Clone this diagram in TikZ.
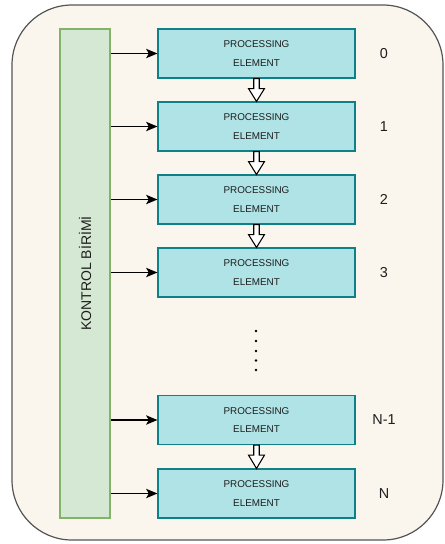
\documentclass[tikz,border=0pt]{standalone}
\usepackage{fontspec}
\setmainfont{Liberation Sans}
\usetikzlibrary{arrows.meta,calc}
\definecolor{bgcream}{HTML}{FAF6EE}
\definecolor{outerline}{HTML}{555555}
\definecolor{pefill}{HTML}{B0E3E6}
\definecolor{peline}{HTML}{0E8088}
\definecolor{ctfill}{HTML}{D5E8D4}
\definecolor{ctline}{HTML}{82B366}
\definecolor{txt}{HTML}{1E1E1E}
\newcommand\hollowarr[2]{%
  \draw[fill=white,line width=0.8pt,line join=miter]
    ($(#1.south)+(-2.75,0)$) -- ($(#1.south)+(-2.75,10)$) -- ($(#1.south)+(-8,10)$)
    -- (#2.north) -- ($(#1.south)+(8,10)$) -- ($(#1.south)+(2.75,10)$)
    -- ($(#1.south)+(2.75,0)$) -- cycle;}
\begin{document}
\begin{tikzpicture}[x=0.75pt,y=-0.75pt,
  pebox/.style={draw=peline,fill=pefill,line width=0.8pt,minimum width=147.75pt,
    minimum height=36.75pt,inner sep=0pt,align=center,text=txt,
    font=\fontsize{7.4}{14}\selectfont},
  numlabel/.style={text=txt,font=\fontsize{10.8}{12}\selectfont,inner sep=0pt},
  feed/.style={-{Stealth[length=8.5pt,width=7pt,inset=2pt]},line width=1.05pt,black}]
\fill[white] (0,0) rectangle (444,544);
\useasboundingbox (0,0) rectangle (444,544);
\draw[draw=outerline,fill=bgcream,line width=0.9pt,rounded corners=45pt] (12,5) rectangle (443,540);

\node[draw=ctline,fill=ctfill,line width=0.8pt,minimum width=37.5pt,minimum height=366.75pt,inner sep=0pt] (ctrl) at (85,273.5) {};
\node[rotate=90,text=txt,font=\fontsize{10.5}{12}\selectfont] (ctrltext) at (ctrl.center) {KONTROL BİRİMİ};

\node[pebox] (b0) at (256.5,53.5) {PROCESSING\\ELEMENT};
\node[pebox] (b1) at (256.5,126.5) {PROCESSING\\ELEMENT};
\node[pebox] (b2) at (256.5,199.5) {PROCESSING\\ELEMENT};
\node[pebox] (b3) at (256.5,272.5) {PROCESSING\\ELEMENT};
\node[pebox] (b4) at (256.5,420) {PROCESSING\\ELEMENT};
\node[pebox] (b5) at (256.5,493.5) {PROCESSING\\ELEMENT};

\node[numlabel] (l0) at (384,53.5) {0};
\node[numlabel] (l1) at (384,126.5) {1};
\node[numlabel] (l2) at (384,199.5) {2};
\node[numlabel] (l3) at (384,272.5) {3};
\node[numlabel] (l4) at (384,420) {N-1};
\node[numlabel] (l5) at (384,493.5) {N};

\foreach \b in {b0,b1,b2,b3,b4,b5}{
  \draw[feed] (ctrl.east |- \b.west) -- (\b.west);
}

\hollowarr{b0}{b1}
\hollowarr{b1}{b2}
\hollowarr{b2}{b3}
\hollowarr{b4}{b5}

\foreach \y in {331,341,351,360.5,370}{
  \fill (256,\y) circle (1.3);
}
\end{tikzpicture}
\end{document}
